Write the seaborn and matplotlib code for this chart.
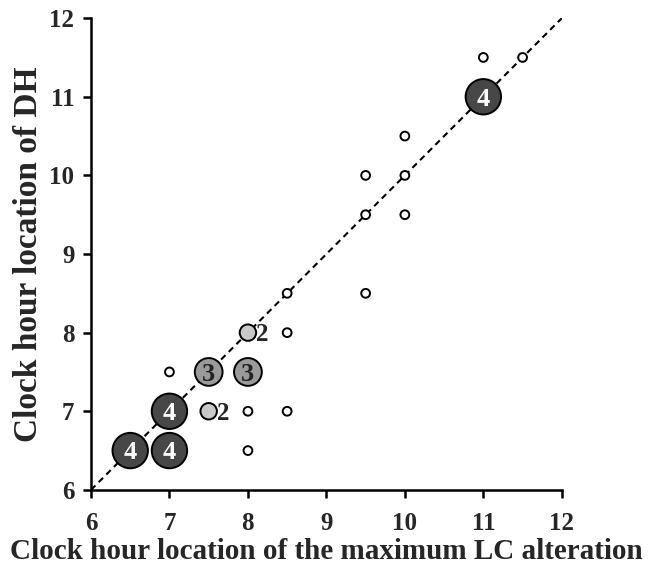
import matplotlib
matplotlib.use("Agg")
import matplotlib.pyplot as plt
import seaborn as sns
import pandas as pd

# clock hour pairs (LC alteration, DH) and how many eyes share each location
lc_hour = [11, 11.5, 10, 9.5, 10, 9.5, 10, 8.5, 9.5, 8.5, 7, 8, 8.5, 8,
           8, 7.5, 7.5, 8, 11, 7, 6.5, 7]
dh_hour = [11.5, 11.5, 10.5, 10, 10, 9.5, 9.5, 8.5, 8.5, 8, 7.5, 7, 7, 6.5,
           8, 7, 7.5, 7.5, 11, 7, 6.5, 6.5]
n_eyes = [1, 1, 1, 1, 1, 1, 1, 1, 1, 1, 1, 1, 1, 1,
          2, 2, 3, 3, 4, 4, 4, 4]

df = pd.DataFrame({"lc": lc_hour, "dh": dh_hour, "n": n_eyes})

sns.set_style("ticks")
plt.rcParams["font.family"] = ["Liberation Serif", "DejaVu Serif"]
plt.rcParams["font.weight"] = "bold"

fig = plt.figure(figsize=(6.48, 5.67), dpi=100)
ax = fig.add_axes([0.1404, 0.136, 0.7266, 0.832])

ax.plot([6, 12], [6, 12], ls=(0, (3, 2.2)), color="black", lw=1.5, zorder=1)

fills = {1: "white", 2: "#c8c8c8", 3: "#9a9a9a", 4: "#474747"}
sizes = {1: 40, 2: 140, 3: 400, 4: 650}
sns.scatterplot(data=df, x="lc", y="dh", hue="n", size="n", palette=fills,
                sizes=sizes, edgecolor="black", linewidth=1.4, legend=False,
                ax=ax, zorder=3)

for _, r in df.iterrows():
    if r["n"] == 2:
        ax.text(r["lc"] + 0.1, r["dh"] - 0.03, "2", fontsize=18, fontweight="bold",
                ha="left", va="center", zorder=4)
    elif r["n"] >= 3:
        col = "white" if r["n"] == 4 else "#222222"
        ax.text(r["lc"], r["dh"] - 0.03, str(int(r["n"])), fontsize=19,
                fontweight="bold", color=col, ha="center", va="center", zorder=4)

ax.set_xlim(6, 12)
ax.set_ylim(6, 12)
ax.set_xticks(range(6, 13))
ax.set_yticks(range(6, 13))
ax.tick_params(labelsize=18, width=1.8, length=6, color="black")
ax.tick_params(axis="x", pad=10)
ax.tick_params(axis="y", pad=6)
for lab in ax.get_xticklabels() + ax.get_yticklabels():
    lab.set_fontweight("bold")
    lab.set_fontsize(18)
for s in ["left", "bottom"]:
    ax.spines[s].set_linewidth(1.8)
    ax.spines[s].set_color("black")
sns.despine(ax=ax)

ax.set_xlabel("Clock hour location of the maximum LC alteration", fontsize=21,
              fontweight="bold", labelpad=2)
ax.set_ylabel("Clock hour location of DH", fontsize=24, fontweight="bold",
              labelpad=4)

fig.savefig("out.png", dpi=100)
